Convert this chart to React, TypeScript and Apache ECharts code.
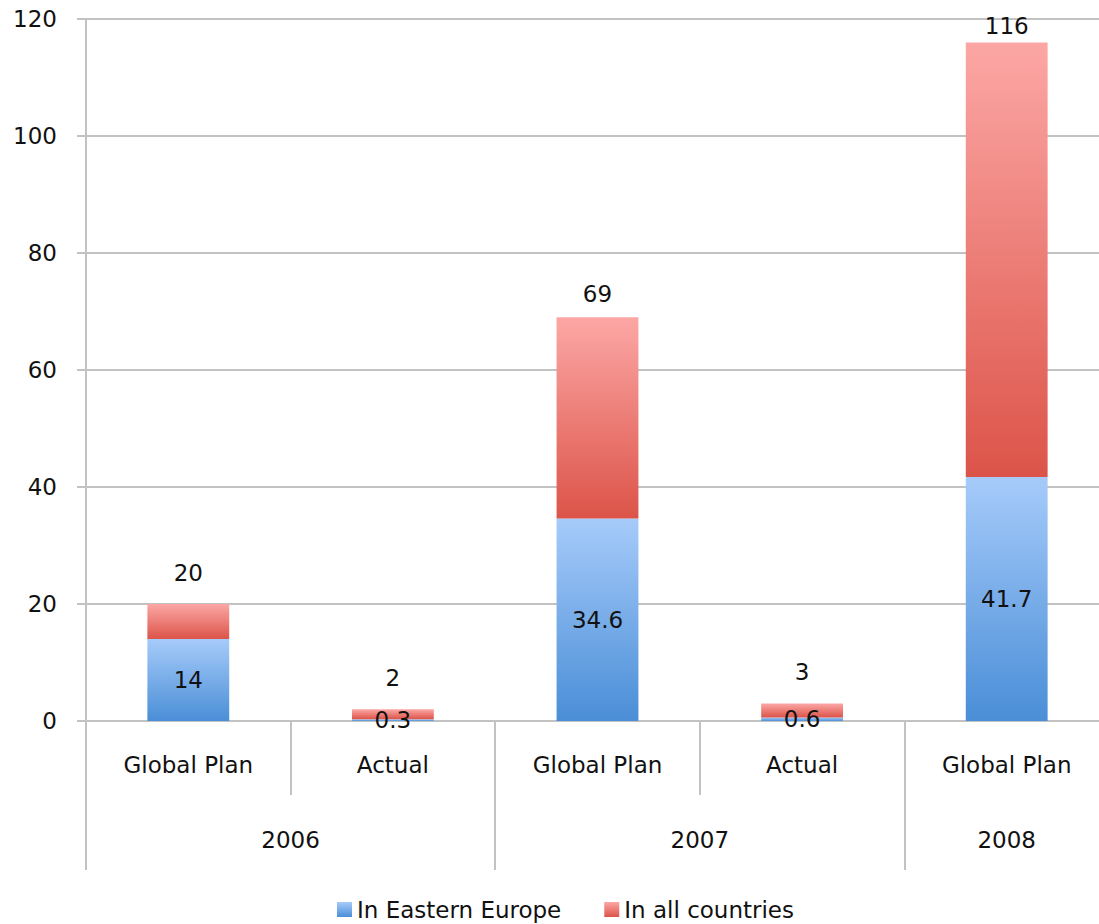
import React, { useEffect, useRef } from "react";
import * as echarts from "echarts";

const categories = ["Global Plan", "Actual", "Global Plan", "Actual", "Global Plan"];
const yearSlots = ["", "", "2006", "", "", "", "2007", "", "", "2008", ""];
const yearBoundaryIdx = [0, 4, 8, 10];
const subBoundaryIdx = [1, 3];
const easternEurope = [14, 0.3, 34.6, 0.6, 41.7];
const allCountriesRest = [6, 1.7, 34.4, 2.4, 74.3];
const totals = [20, 2, 69, 3, 116];
const seriesNames = ["In Eastern Europe", "In all countries"];

const FONT = "DejaVu Sans";
const FS = 23;
const TXT = "#111111";
const GRID = "#c2c2c2";

const blueGrad = new echarts.graphic.LinearGradient(0, 0, 0, 1, [
  { offset: 0, color: "#a6cbfa" },
  { offset: 1, color: "#4a8ed7" },
]);
const redGrad = new echarts.graphic.LinearGradient(0, 0, 0, 1, [
  { offset: 0, color: "#fca7a5" },
  { offset: 1, color: "#dc5449" },
]);

export default function App() {
  const ref = useRef<HTMLDivElement>(null);
  useEffect(() => {
    if (!ref.current) return;
    const chart = echarts.init(ref.current, null, { renderer: "svg" });
    const redLabelDist = (i: number) => (i === 4 ? 5 : i === 2 ? 12 : 20);
    chart.setOption({
      animation: false,
      textStyle: { fontFamily: FONT, color: TXT },
      grid: { left: 86, right: 0, top: 19, bottom: 203, containLabel: false },
      legend: {
        left: 332,
        top: 893,
        itemWidth: 15,
        itemHeight: 15,
        itemGap: 43,
        icon: "rect",
        data: seriesNames,
        textStyle: { fontFamily: FONT, fontSize: FS, color: TXT },
      },
      xAxis: [
        {
          type: "category",
          data: categories,
          axisLine: { show: true, lineStyle: { color: GRID, width: 2 } },
          axisTick: {
            show: true,
            interval: (i: number) => subBoundaryIdx.includes(i),
            length: 74,
            lineStyle: { color: GRID, width: 2 },
          },
          axisLabel: {
            interval: 0,
            margin: 32,
            fontSize: FS,
            fontFamily: FONT,
            color: TXT,
          },
        },
        {
          type: "category",
          position: "bottom",
          boundaryGap: false,
          data: yearSlots.map((_, i) => "s" + i),
          axisLine: { show: false },
          axisTick: {
            show: true,
            interval: (i: number) => yearBoundaryIdx.includes(i),
            length: 149,
            lineStyle: { color: GRID, width: 2 },
          },
          axisLabel: {
            interval: 0,
            margin: 107,
            fontSize: FS,
            fontFamily: FONT,
            color: TXT,
            formatter: (_v: string, i: number) => yearSlots[i],
          },
        },
      ],
      yAxis: {
        type: "value",
        min: 0,
        max: 120,
        interval: 20,
        axisLine: { show: true, lineStyle: { color: GRID, width: 2 } },
        axisTick: { show: true, length: 9, lineStyle: { color: GRID, width: 2 } },
        splitLine: { show: true, lineStyle: { color: GRID, width: 2 } },
        axisLabel: { margin: 29, fontSize: FS, fontFamily: FONT, color: TXT },
      },
      series: [
        {
          name: seriesNames[0],
          type: "bar",
          stack: "total",
          xAxisIndex: 0,
          barWidth: "40%",
          itemStyle: { color: blueGrad },
          label: {
            show: true,
            position: "inside",
            fontSize: FS,
            fontFamily: FONT,
            color: TXT,
          },
          data: easternEurope,
        },
        {
          name: seriesNames[1],
          type: "bar",
          stack: "total",
          xAxisIndex: 0,
          barWidth: "40%",
          itemStyle: { color: redGrad },
          label: {
            show: true,
            position: "top",
            fontSize: FS,
            fontFamily: FONT,
            color: TXT,
            formatter: (p: any) => String(totals[p.dataIndex]),
          },
          data: allCountriesRest.map((v, i) => ({ value: v, label: { distance: redLabelDist(i) } })),
        },
      ],
    });
    return () => chart.dispose();
  }, []);
  return (
    <div
      ref={ref}
      style={{ position: "fixed", left: 0, top: 0, width: 1112, height: 924, background: "#fff" }}
    />
  );
}
